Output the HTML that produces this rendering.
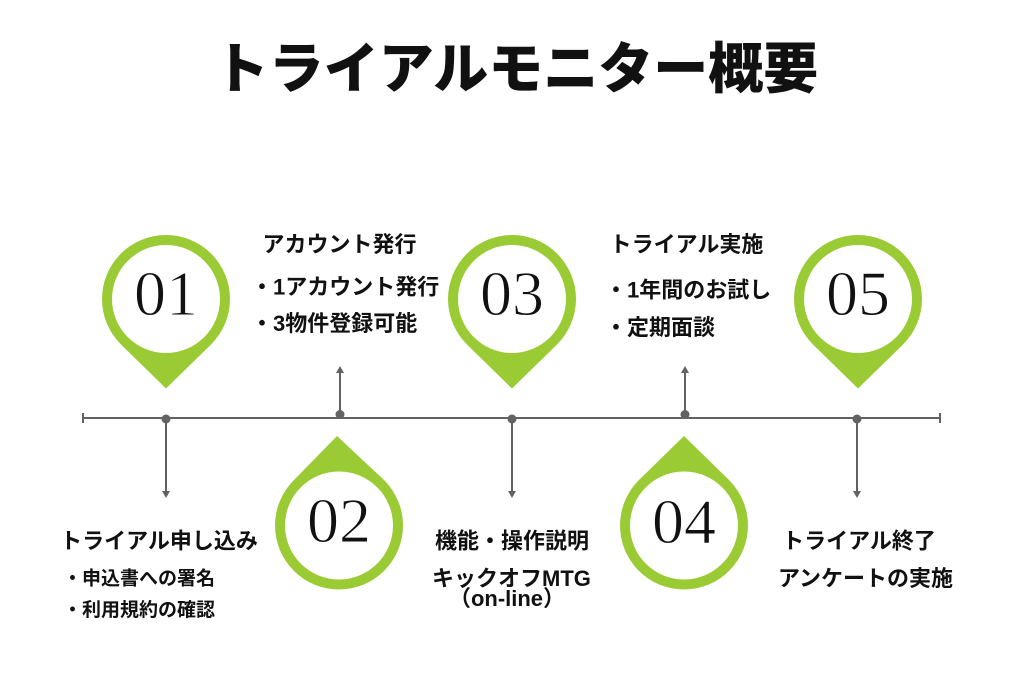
<!DOCTYPE html>
<html>
<head>
<meta charset="utf-8">
<style>
  html,body{margin:0;padding:0;background:#fff;}
  body{width:1024px;height:675px;overflow:hidden;}
  svg{display:block;}
  .jp{font-family:"Liberation Sans","Noto Sans CJK JP",sans-serif;font-weight:700;fill:#111;}
  .num{font-family:"Liberation Serif",serif;font-weight:400;fill:#111;stroke:#fff;stroke-width:0.9px;}
</style>
</head>
<body>
<svg width="1024" height="675" viewBox="0 0 1024 675" xmlns="http://www.w3.org/2000/svg">
  <rect width="1024" height="675" fill="#fff"/>

  <!-- Title -->
  <text class="jp" x="516" y="88" font-size="55" font-weight="900" text-anchor="middle" style="font-weight:900">トライアルモニター概要</text>

  <!-- Timeline -->
  <g stroke="#626262" stroke-width="2" fill="none">
    <line x1="82" y1="418" x2="940" y2="418"/>
    <line x1="83" y1="413" x2="83" y2="423"/>
    <line x1="940" y1="413" x2="940" y2="423"/>
    <!-- down arrows -->
    <line x1="166" y1="419" x2="166" y2="493"/>
    <line x1="512" y1="419" x2="512" y2="493"/>
    <line x1="857" y1="419" x2="857" y2="493"/>
    <!-- up arrows -->
    <line x1="340" y1="414" x2="340" y2="371"/>
    <line x1="685" y1="414" x2="685" y2="371"/>
  </g>
  <g fill="#626262">
    <circle cx="166" cy="419" r="4.5"/>
    <circle cx="512" cy="419" r="4.5"/>
    <circle cx="857" cy="419" r="4.5"/>
    <circle cx="340" cy="414.5" r="4.5"/>
    <circle cx="685" cy="414.5" r="4.5"/>
    <polygon points="162,491 170,491 166,498"/>
    <polygon points="508,491 516,491 512,498"/>
    <polygon points="853,491 861,491 857,498"/>
    <polygon points="336,373 344,373 340,366"/>
    <polygon points="681,373 689,373 685,366"/>
  </g>

  <!-- Pins pointing down (01, 03, 05) -->
  <g fill="#9ACB34">
    <circle cx="166" cy="299" r="64"/>
    <polygon points="121.5,345 166,388.5 210.5,345"/>
    <circle cx="512" cy="299" r="64"/>
    <polygon points="467.5,345 512,388.5 556.5,345"/>
    <circle cx="858" cy="299" r="64"/>
    <polygon points="813.5,345 858,388.5 902.5,345"/>
    <!-- Pins pointing up (02, 04) -->
    <circle cx="339" cy="525.5" r="64"/>
    <polygon points="294.5,479.5 337,436 383.5,479.5"/>
    <circle cx="684" cy="525.5" r="64"/>
    <polygon points="639.5,479.5 684,436 728.5,479.5"/>
  </g>
  <g fill="#fff">
    <circle cx="166" cy="299" r="54"/>
    <circle cx="512" cy="299" r="54"/>
    <circle cx="858" cy="299" r="54"/>
    <circle cx="339" cy="525.5" r="54"/>
    <circle cx="684" cy="525.5" r="54"/>
  </g>

  <!-- Numbers -->
  <text class="num" x="166" y="315" font-size="64" text-anchor="middle">01</text>
  <text class="num" x="512" y="315" font-size="64" text-anchor="middle">03</text>
  <text class="num" x="858" y="315" font-size="64" text-anchor="middle">05</text>
  <text class="num" x="339" y="542" font-size="64" text-anchor="middle">02</text>
  <text class="num" x="684" y="543" font-size="64" text-anchor="middle">04</text>

  <!-- Upper labels -->
  <text class="jp" x="339.5" y="252" font-size="22" text-anchor="middle">アカウント発行</text>
  <text class="jp" x="251" y="294.5" font-size="22">・1アカウント発行</text>
  <text class="jp" x="251" y="331" font-size="22">・3物件登録可能</text>

  <text class="jp" x="686.5" y="252" font-size="22" text-anchor="middle">トライアル実施</text>
  <text class="jp" x="605" y="297.5" font-size="22">・1年間のお試し</text>
  <text class="jp" x="605" y="335" font-size="22">・定期面談</text>

  <!-- Lower labels -->
  <text class="jp" x="159" y="548.5" font-size="22" text-anchor="middle">トライアル申し込み</text>
  <text class="jp" x="63" y="584.5" font-size="19">・申込書への署名</text>
  <text class="jp" x="63" y="616" font-size="19">・利用規約の確認</text>

  <text class="jp" x="512" y="548.5" font-size="22" text-anchor="middle">機能・操作説明</text>
  <text class="jp" x="511.5" y="586" font-size="22" text-anchor="middle">キックオフMTG</text>
  <text class="jp" x="507" y="606" font-size="22" text-anchor="middle">（on-line）</text>

  <text class="jp" x="859" y="548.5" font-size="22" text-anchor="middle">トライアル終了</text>
  <text class="jp" x="865.5" y="586" font-size="22" text-anchor="middle">アンケートの実施</text>
</svg>
</body>
</html>
